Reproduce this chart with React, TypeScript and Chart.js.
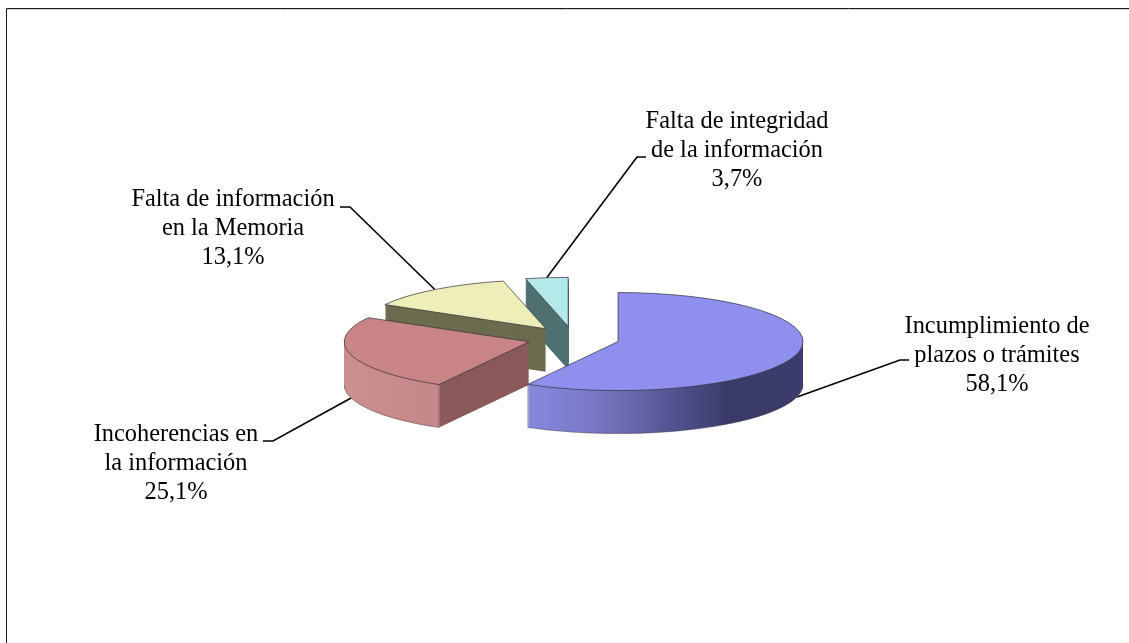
import React, { useEffect, useRef } from "react";
import { Chart, registerables } from "chart.js";

Chart.register(...registerables);

const categories = [
  "Incumplimiento de plazos o trámites",
  "Incoherencias en la información",
  "Falta de información en la Memoria",
  "Falta de integridad de la información",
];
const values = [58.1, 25.1, 13.1, 3.7];
const labelLines = [
  ["Incumplimiento de", "plazos o trámites", "58,1%"],
  ["Incoherencias en", "la información", "25,1%"],
  ["Falta de información", "en la Memoria", "13,1%"],
  ["Falta de integridad", "de la información", "3,7%"],
];

const topColors = ["#8f8fee", "#c98585", "#eeeeb9", "#b3e9e9"];
const RADIUS = 185;
const EXPLODE = 46;
const TILT = 0.265;
const DEPTH = 43;
const drawOrder = [3, 2, 1, 0];

const labelBlocks = [
  { cx: 997, cy: 327, elbow: [900, 360], end: [909, 360] },
  { cx: 176, cy: 435, elbow: [273, 441], end: [263, 441] },
  { cx: 233, cy: 200, elbow: [350, 207], end: [340, 207] },
  { cx: 737, cy: 122, elbow: [637, 157], end: [646, 157] },
];

function wallFill(ctx: CanvasRenderingContext2D, i: number, cx: number) {
  const g = ctx.createLinearGradient(cx - RADIUS, 0, cx + RADIUS, 0);
  if (i === 0) {
    g.addColorStop(0, "#8686dc");
    g.addColorStop(0.27, "#8686dc");
    g.addColorStop(0.42, "#7a7ac8");
    g.addColorStop(0.58, "#6060a2");
    g.addColorStop(0.7, "#4a4a84");
    g.addColorStop(0.8, "#3a3a68");
    g.addColorStop(1, "#3c3c6c");
  } else if (i === 1) {
    g.addColorStop(0, "#cc8e8e");
    g.addColorStop(0.2595, "#c58787");
    g.addColorStop(0.26, "#8a5a5a");
    g.addColorStop(1, "#8a5a5a");
  } else if (i === 2) {
    return "#6c6c4f";
  } else {
    return "#4f7070";
  }
  return g;
}

const piePlugin = {
  id: "tiltedPie",
  beforeDatasetDraw(chart: any) {
    const ctx: CanvasRenderingContext2D = chart.ctx;
    const arcs = chart.getDatasetMeta(0).data;

    // frame
    ctx.save();
    ctx.strokeStyle = "#d0d0d0";
    ctx.lineWidth = 1;
    ctx.beginPath();
    ctx.moveTo(7, 9.5);
    ctx.lineTo(1129, 9.5);
    ctx.stroke();
    ctx.strokeStyle = "#1a1a1a";
    ctx.beginPath();
    ctx.moveTo(1129, 8.5);
    ctx.lineTo(6.5, 8.5);
    ctx.lineTo(6.5, 643);
    ctx.stroke();
    ctx.restore();

    const centre = (arc: any) => {
      const mid = (arc.startAngle + arc.endAngle) / 2;
      return {
        mid,
        x: arc.x + Math.cos(mid) * EXPLODE,
        y: arc.y + Math.sin(mid) * EXPLODE * TILT,
      };
    };

    // leader lines go under the pie
    ctx.save();
    ctx.strokeStyle = "#000";
    ctx.lineWidth = 1.6;
    arcs.forEach((arc: any, i: number) => {
      const c = centre(arc);
      const sy = Math.sin(c.mid);
      const ax = c.x + Math.cos(c.mid) * RADIUS;
      const ay = c.y + sy * RADIUS * TILT + (sy > 0 ? DEPTH : 0);
      const b = labelBlocks[i];
      ctx.beginPath();
      ctx.moveTo(ax, ay);
      ctx.lineTo(b.elbow[0], b.elbow[1]);
      ctx.lineTo(b.end[0], b.end[1]);
      ctx.stroke();
    });
    ctx.restore();

    const place = (arc: any, d: number) => {
      const c = centre(arc);
      ctx.translate(c.x, c.y + d);
      ctx.scale(1, TILT);
      ctx.translate(-arc.x, -arc.y);
    };

    drawOrder.forEach((i) => {
      const arc = arcs[i];
      const c = centre(arc);
      const wall = Object.create(arc);
      wall.options = Object.assign({}, arc.options, {
        backgroundColor: wallFill(ctx, i, arc.x),
        borderWidth: 0,
      });
      for (let d = DEPTH; d > 0; d -= 0.5) {
        ctx.save();
        place(arc, d);
        wall.draw(ctx);
        ctx.restore();
      }
      const top = Object.create(arc);
      top.options = Object.assign({}, arc.options, {
        backgroundColor: topColors[i],
        borderWidth: 0,
      });
      ctx.save();
      place(arc, 0);
      top.draw(ctx);
      ctx.restore();

      // outlines in screen space so the line is not squashed by the tilt
      ctx.save();
      ctx.save();
      place(arc, 0);
      ctx.beginPath();
      ctx.moveTo(arc.x, arc.y);
      ctx.arc(arc.x, arc.y, RADIUS, arc.startAngle, arc.endAngle);
      ctx.closePath();
      ctx.restore();
      ctx.strokeStyle = "rgba(50,50,60,0.7)";
      ctx.lineWidth = 1;
      ctx.stroke();

      const from = Math.max(arc.startAngle, 0);
      const to = Math.min(arc.endAngle, Math.PI);
      if (to > from) {
        ctx.save();
        place(arc, DEPTH);
        ctx.beginPath();
        ctx.arc(arc.x, arc.y, RADIUS, from, to);
        ctx.restore();
        ctx.strokeStyle = "rgba(70,70,80,0.5)";
        ctx.stroke();
        const frontEdge = i === 0 ? arc.endAngle : arc.startAngle;
        const ex = c.x + Math.cos(frontEdge) * RADIUS;
        const ey = c.y + Math.sin(frontEdge) * RADIUS * TILT;
        ctx.beginPath();
        ctx.moveTo(ex, ey);
        ctx.lineTo(ex, ey + DEPTH);
        ctx.stroke();
      }
      ctx.restore();
    });

    // labels
    ctx.save();
    ctx.fillStyle = "#000";
    ctx.font = '24.4px "Liberation Serif"';
    ctx.textAlign = "center";
    ctx.textBaseline = "middle";
    labelLines.forEach((lines, i) => {
      lines.forEach((t, k) => {
        ctx.fillText(t, labelBlocks[i].cx, labelBlocks[i].cy + k * 28.7);
      });
    });
    ctx.restore();
    return false;
  },
};

export default function App() {
  const ref = useRef<HTMLCanvasElement>(null);
  useEffect(() => {
    const chart = new Chart(ref.current as HTMLCanvasElement, {
      type: "pie",
      data: {
        labels: categories,
        datasets: [
          {
            data: values,
            backgroundColor: topColors,
            borderWidth: 0,
            radius: RADIUS,
          } as any,
        ],
      },
      options: {
        responsive: false,
        animation: false,
        layout: { padding: { left: 18, top: 34 } },
        plugins: {
          legend: { display: false },
          tooltip: { enabled: false },
        },
        events: [],
      },
      plugins: [piePlugin as any],
    });
    return () => chart.destroy();
  }, []);
  return (
    <canvas
      ref={ref}
      width={1129}
      height={643}
      style={{
        position: "fixed",
        left: 0,
        top: 0,
        width: 1129,
        height: 643,
        display: "block",
        background: "#fff",
      }}
    />
  );
}
